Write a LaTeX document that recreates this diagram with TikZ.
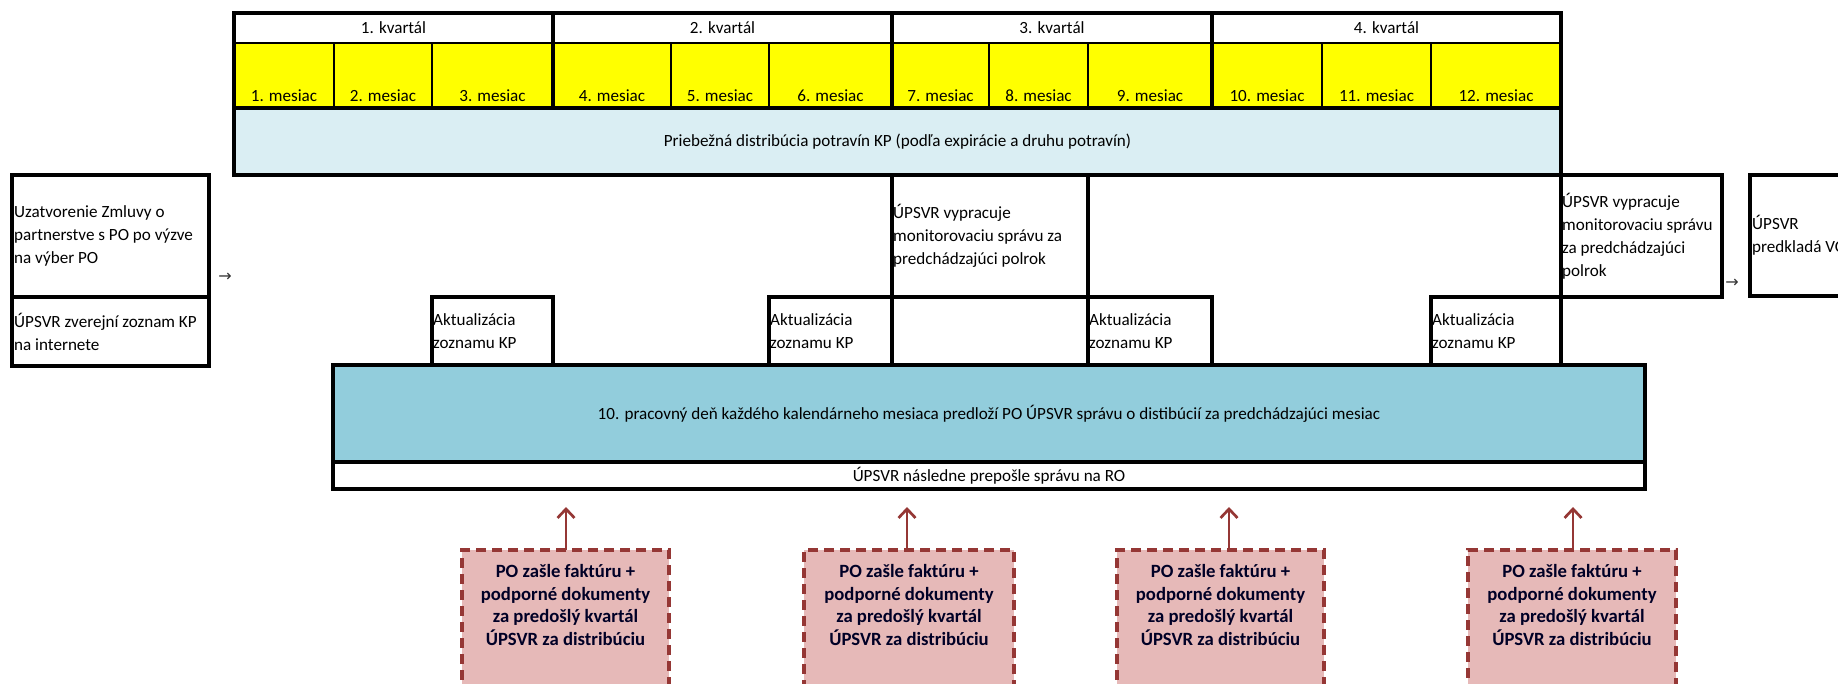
\documentclass[tikz,border=0pt]{standalone}
\usepackage{fontspec}
\setmainfont{Carlito}
\newfontfamily\arrowfont{DejaVu Sans}
\usetikzlibrary{arrows.meta}
\definecolor{yel}{HTML}{FFFF00}
\definecolor{lblue}{HTML}{DAEEF3}
\definecolor{mblue}{HTML}{92CDDC}
\definecolor{pinkf}{HTML}{E6B9B8}
\definecolor{dred}{HTML}{953735}
\newcommand\normtxt{\fontsize{17.1}{23}\selectfont}
\newcommand\boldtxt{\fontsize{18.7}{22.7}\selectfont\bfseries}
\newcommand\bx[6][]{\node[cell,#1,minimum width={#4-#2},minimum height={#5-#3}] (#6) at (#2,#3) {};}
\newcommand\bxt[7][]{\node[cell,#1,minimum width={#4-#2},minimum height={#5-#3}] (#6) at (#2,#3) {#7};}
\tikzset{
  cell/.style={rectangle, inner sep=0pt, outer sep=0pt, anchor=north west, font=\normtxt},
  thinb/.style={draw=black, line width=1.5pt},
  medb/.style={draw=black, line width=2.5pt},
  thickb/.style={draw=black, line width=4.5pt},
  txt/.style={inner sep=0pt, font=\normtxt, align=left, text=black},
  mtxt/.style={inner sep=0pt, font=\normtxt, anchor=base},
  pinkbox/.style={cell, fill=pinkf, draw=dred, line width=3.3pt, dash pattern=on 10pt off 6pt},
  ptxt/.style={inner sep=0pt, font=\boldtxt, align=center, anchor=north, text=black!85!blue},
  parrow/.style={draw=dred, line width=2.7pt, -{Straight Barb[length=9pt,width=17pt]}},
  glyph/.style={inner sep=0pt, font=\arrowfont\fontsize{16}{18}\selectfont, text=black!80}
}
\begin{document}
\begin{tikzpicture}[x=1pt,y=-1pt]
\useasboundingbox (0,0) rectangle (1838,683);
\clip (0,0) rectangle (1838,683);
% quarter headers
\bxt[medb]{234}{13}{553}{43}{q1}{1. kvartál}
\bxt[medb]{553}{13}{892}{43}{q2}{2. kvartál}
\bxt[medb]{892}{13}{1212}{43}{q3}{3. kvartál}
\bxt[medb]{1212}{13}{1561}{43}{q4}{4. kvartál}
% months
\bx[fill=yel,thinb]{234}{43}{334}{108}{m1}
\bx[fill=yel,thinb]{334}{43}{432}{108}{m2}
\bx[fill=yel,thinb]{432}{43}{553}{108}{m3}
\bx[fill=yel,thinb]{553}{43}{671}{108}{m4}
\bx[fill=yel,thinb]{671}{43}{769}{108}{m5}
\bx[fill=yel,thinb]{769}{43}{892}{108}{m6}
\bx[fill=yel,thinb]{892}{43}{989}{108}{m7}
\bx[fill=yel,thinb]{989}{43}{1088}{108}{m8}
\bx[fill=yel,thinb]{1088}{43}{1212}{108}{m9}
\bx[fill=yel,thinb]{1212}{43}{1322}{108}{m10}
\bx[fill=yel,thinb]{1322}{43}{1431}{108}{m11}
\bx[fill=yel,thinb]{1431}{43}{1561}{108}{m12}
\foreach \i in {1,...,12}{
  \node[mtxt] (mt\i) at ([yshift=7pt]m\i.south) {\i. mesiac};
}
% distribution row
\bxt[fill=lblue]{234}{108}{1561}{175}{dist}{Priebežná distribúcia potravín KP (podľa expirácie a druhu potravín)}
% borders of the top table
\draw[thickb] (m1.south west) -- (m12.south east);
\draw[thickb] (q1.north east) -- (m3.south east);
\draw[thickb] (q2.north east) -- (m6.south east);
\draw[thickb] (q3.north east) -- (m9.south east);
\draw[thickb] (q1.north west) rectangle (dist.south east);
% left boxes
\bx[thickb]{12}{175}{209}{297}{uz}
\bx[thickb]{12}{297}{209}{366}{zv}
\node[txt,anchor=west] (uzt) at ([xshift=2pt]uz.west) {Uzatvorenie Zmluvy o\\partnerstve s PO po výzve\\na výber PO};
\node[txt,anchor=west] (zvt) at ([xshift=2pt]zv.west) {ÚPSVR zverejní zoznam KP\\na internete};
\node[glyph] (la) at (225,277) {→};
% big box
\bxt[fill=mblue,thickb]{333}{365}{1645}{462}{big}{10. pracovný deň každého kalendárneho mesiaca predloží PO ÚPSVR správu o distibúcií za predchádzajúci mesiac}
\bxt[fill=white,thickb]{333}{462}{1645}{489}{ro}{ÚPSVR následne prepošle správu na RO}
% update boxes
\bx[fill=white,thickb]{432}{297}{553}{365}{a1}
\bx[fill=white,thickb]{769}{297}{892}{365}{a2}
\bx[fill=white,thickb]{1088}{297}{1212}{365}{a3}
\bx[fill=white,thickb]{1431}{297}{1561}{365}{a4}
\foreach \i in {1,...,4}{
  \node[txt,anchor=west] (at\i) at ([xshift=1pt]a\i.west) {Aktualizácia\\zoznamu KP};
}
% monitoring boxes
\bx[thickb]{892}{175}{1088}{297}{mon1}
\bx[thickb]{892}{297}{1088}{365}{mon1b}
\node[txt,anchor=west] (mon1t) at ([xshift=1pt]mon1.west) {ÚPSVR vypracuje\\monitorovaciu správu za\\predchádzajúci polrok};
\bx[thickb]{1561}{175}{1722}{297}{mon2}
\node[txt,anchor=west] (mon2t) at ([xshift=1pt]mon2.west) {ÚPSVR vypracuje\\monitorovaciu správu\\za predchádzajúci\\polrok};
\node[glyph] (ra) at (1732,283) {→};
\bx[thickb]{1750}{175}{1910}{296}{pred}
\node[txt,anchor=west] (predt) at ([xshift=2pt]pred.west) {ÚPSVR\\predkladá VO};
% invoice boxes
\bx[pinkbox]{462}{550}{669}{720}{p1}
\bx[pinkbox]{804}{550}{1014}{720}{p2}
\bx[pinkbox]{1117}{550}{1324}{720}{p3}
\bx[pinkbox]{1468}{550}{1676}{720}{p4}
\foreach \i in {1,...,4}{
  \node[ptxt] (pt\i) at ([yshift=-14pt]p\i.north) {PO zašle faktúru +\\podporné dokumenty\\za predošlý kvartál\\ÚPSVR za distribúciu};
}
\coordinate (t1) at (566,507);
\coordinate (t2) at (907,507);
\coordinate (t3) at (1229,507);
\coordinate (t4) at (1573,507);
\foreach \i in {1,...,4}{
  \draw[parrow] (t\i |- p\i.north) -- (t\i);
}
\end{tikzpicture}
\end{document}
